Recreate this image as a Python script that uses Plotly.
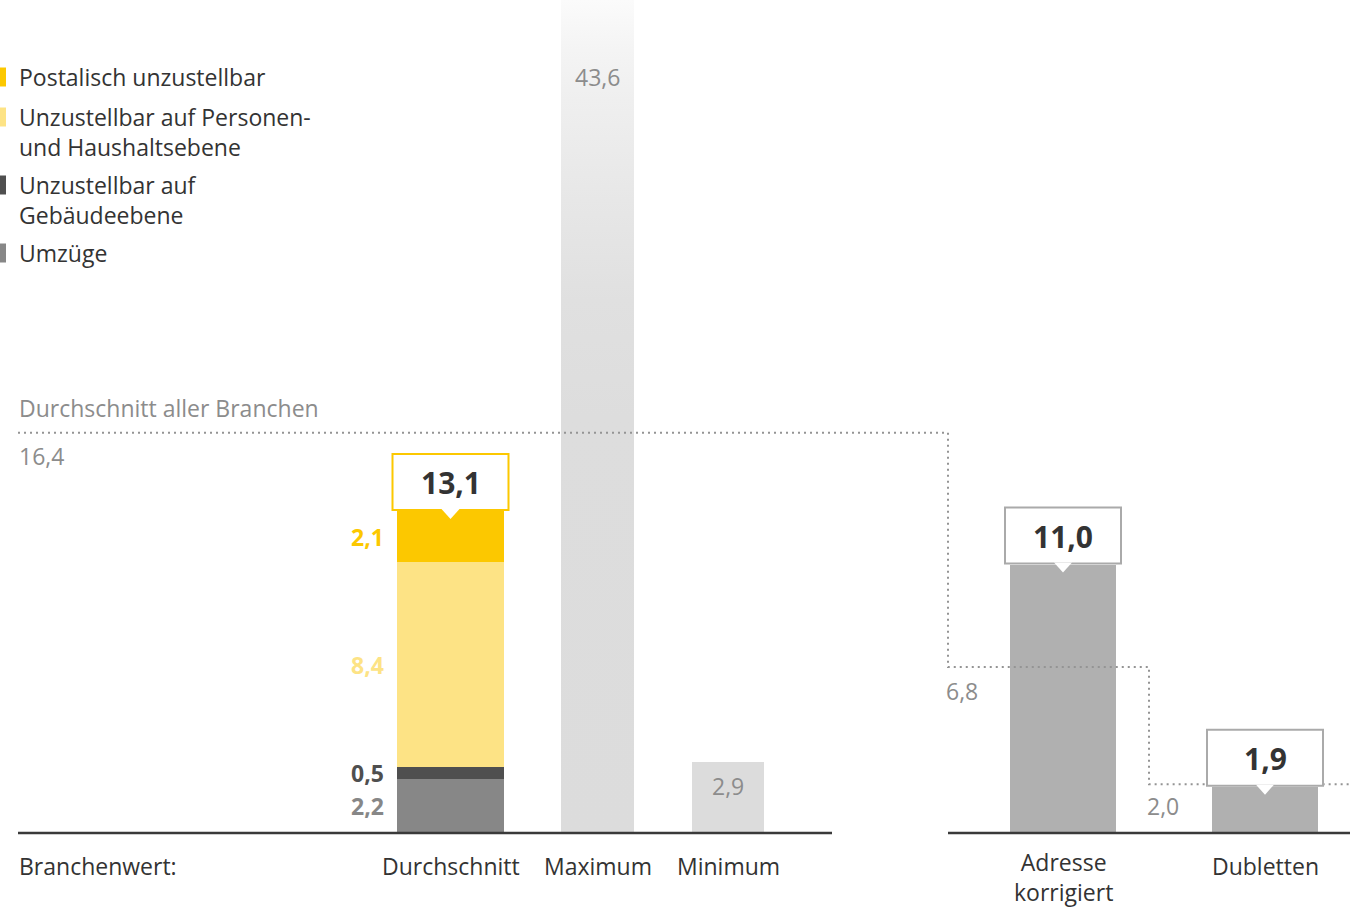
import plotly.graph_objects as go

# ---- data -------------------------------------------------------------
stack_names = [
    "Umzüge",
    "Unzustellbar auf<br>Gebäudeebene",
    "Unzustellbar auf Personen-<br>und Haushaltsebene",
    "Postalisch unzustellbar",
]
stack_values = [2.2, 0.5, 8.4, 2.1]
stack_labels = ["2,2", "0,5", "8,4", "2,1"]
stack_total_label = "13,1"

branch_labels = ["Durchschnitt", "Maximum", "Minimum"]
max_value = 43.6
max_label = "43,6"
min_value = 2.9
min_label = "2,9"

result_labels = ["Adresse<br>korrigiert", "Dubletten"]
result_values = [11.0, 1.9]
result_value_labels = ["11,0", "1,9"]

all_branches_values = [16.4, 6.8, 2.0]
all_branches_labels = ["16,4", "6,8", "2,0"]

# ---- layout constants ------------------------------------------------
W, H = 1356, 907
BASE_PX = 833
PX_PER_UNIT = 24.4
FONT = "Open Sans"
FS = 23                # regular text size
LINE_H = 1.3 * FS      # plotly's line spacing for <br> labels

stack_colors = ["#878787", "#4f4f4f", "#fde385", "#fcc800"]
stack_text_colors = ["#878787", "#4f4f4f", "#fde385", "#fcc800"]
result_color = "#b0b0b0"
min_color = "#dcdcdc"
text_dark = "#333333"
text_grey = "#8c8c8c"

X_AVG, W_AVG = 450.5, 107
X_MAX, W_MAX = 597.5, 73
X_MIN, W_MIN = 728, 72
X_RES, W_RES = [1063, 1265], 106
STEP_X = [18, 948, 1149, 1350]


def py2v(py):
    """Convert a vertical pixel position to a y-axis value."""
    return (BASE_PX - py) / PX_PER_UNIT


fig = go.Figure()

# stacked average bar
for name, val, col in zip(stack_names, stack_values, stack_colors):
    fig.add_trace(go.Bar(x=[X_AVG], y=[val], width=W_AVG, name=name.replace("<br>", " "),
                         marker=dict(color=col, line=dict(width=0)),
                         showlegend=False))

# maximum bar, fading out towards the top
fig.add_trace(go.Scatter(
    x=[X_MAX - W_MAX / 2, X_MAX + W_MAX / 2, X_MAX + W_MAX / 2, X_MAX - W_MAX / 2, X_MAX - W_MAX / 2],
    y=[0, 0, max_value, max_value, 0],
    mode="lines", line=dict(width=0), fill="toself",
    fillgradient=dict(type="vertical", start=0, stop=py2v(0),
                      colorscale=[[0, "#dcdcdc"], [0.5, "#dddddd"], [0.64, "#e0e0e0"],
                                  [0.76, "#e7e7e7"], [0.88, "#efefef"], [0.94, "#f4f4f4"],
                                  [1, "#fbfbfb"]]),
    showlegend=False, hoverinfo="skip"))

# minimum bar
fig.add_trace(go.Bar(x=[X_MIN], y=[min_value], width=W_MIN,
                     marker=dict(color=min_color, line=dict(width=0)), showlegend=False))

# result bars
fig.add_trace(go.Bar(x=X_RES, y=result_values, width=W_RES,
                     marker=dict(color=result_color, line=dict(width=0)), showlegend=False))

# average of all branches: dotted step line
fig.add_trace(go.Scatter(
    x=STEP_X, y=all_branches_values + [all_branches_values[-1]],
    mode="lines", line=dict(color="#949494", width=2, dash="2px,4px", shape="hv"),
    showlegend=False, hoverinfo="skip"))

shapes = []
annotations = []


def text_block(x, cy, text, color, xanchor="center", size=FS):
    """Place a (possibly wrapped) label whose first line is centred on cy."""
    n = text.count("<br>") + 1
    annotations.append(dict(x=x, y=py2v(cy + (n - 1) * LINE_H / 2), xref="x", yref="y",
                            text=text, showarrow=False, xanchor=xanchor, yanchor="middle",
                            align="left" if xanchor == "left" else "center",
                            font=dict(family=FONT, size=size, color=color)))


# baselines
for x0, x1 in [(18, 832), (948, 1350)]:
    shapes.append(dict(type="line", xref="x", yref="y", x0=x0, x1=x1, y0=0, y1=0,
                       line=dict(color="#3a3a3a", width=2.5), layer="above"))


def callout(xc, value, text, border):
    """White value box sitting on top of a bar, with a small pointer."""
    shapes.append(dict(type="rect", xref="x", yref="y", xsizemode="pixel", ysizemode="pixel",
                       xanchor=xc, yanchor=value, x0=-58, x1=58, y0=1, y1=57,
                       fillcolor="white", line=dict(color=border, width=2), layer="above"))
    shapes.append(dict(type="path", xref="x", yref="y", xsizemode="pixel", ysizemode="pixel",
                       xanchor=xc, yanchor=value, path="M -9,2 L 9,2 L 0,-8 Z",
                       fillcolor="white", line=dict(width=0), layer="above"))
    annotations.append(dict(x=xc, y=value, xref="x", yref="y", text=f"<b>{text}</b>",
                            showarrow=False, yanchor="middle", yshift=28,
                            font=dict(family=FONT, size=30, color=text_dark)))


callout(X_AVG, sum(stack_values), stack_total_label, "#fcc800")
for xc, v, t in zip(X_RES, result_values, result_value_labels):
    callout(xc, v, t, "#aaaaaa")

# segment labels next to the stacked bar
base = 0
for val, lab, col in zip(stack_values, stack_labels, stack_text_colors):
    annotations.append(dict(x=X_AVG - W_AVG / 2 - 11, y=base + val / 2, xref="x", yref="y",
                            text=f"<b>{lab}</b>", showarrow=False, xanchor="right",
                            yanchor="middle", font=dict(family=FONT, size=FS, color=col)))
    base += val

annotations.append(dict(x=X_MAX, y=py2v(77), xref="x", yref="y", text=max_label,
                        showarrow=False, yanchor="middle",
                        font=dict(family=FONT, size=FS, color=text_grey)))
annotations.append(dict(x=X_MIN, y=min_value, xref="x", yref="y", text=min_label,
                        showarrow=False, yanchor="middle", yshift=-24,
                        font=dict(family=FONT, size=FS, color=text_grey)))

# labels of the dotted reference line
annotations.append(dict(x=17, y=all_branches_values[0], xref="x", yref="y",
                        text="Durchschnitt aller Branchen", showarrow=False,
                        xanchor="left", yanchor="middle", yshift=25,
                        font=dict(family=FONT, size=FS, color=text_grey)))
for xl, v, lab, ys in zip([17, 944, 1145], all_branches_values, all_branches_labels, [-23, -24, -22]):
    annotations.append(dict(x=xl, y=v, xref="x", yref="y", text=lab, showarrow=False,
                            xanchor="left", yanchor="middle", yshift=ys,
                            font=dict(family=FONT, size=FS, color=text_grey)))

# category labels
text_block(17, 866, "Branchenwert:", text_dark, xanchor="left")
for xc, lab in zip([X_AVG, X_MAX, X_MIN], branch_labels):
    text_block(xc, 866, lab, text_dark)
for xc, lab in zip(X_RES, result_labels):
    text_block(xc, 862 if "<br>" in lab else 866, lab, text_dark)

# legend
legend_rows = [77, 117, 185, 253]
for name, col, cy in zip(reversed(stack_names), reversed(stack_colors), legend_rows):
    shapes.append(dict(type="rect", xref="x", yref="y", x0=0, x1=6,
                       y0=py2v(cy + 9.5), y1=py2v(cy - 9.5), fillcolor=col, line=dict(width=0)))
    text_block(17, cy, name, text_dark, xanchor="left")

fig.update_layout(
    width=W, height=H, margin=dict(l=0, r=0, t=0, b=0),
    paper_bgcolor="white", plot_bgcolor="white",
    barmode="stack", bargap=0,
    xaxis=dict(range=[0, W], visible=False, fixedrange=True),
    yaxis=dict(range=[py2v(H), py2v(0)], visible=False, fixedrange=True),
    shapes=shapes, annotations=annotations,
)

fig.write_html("out.html")
